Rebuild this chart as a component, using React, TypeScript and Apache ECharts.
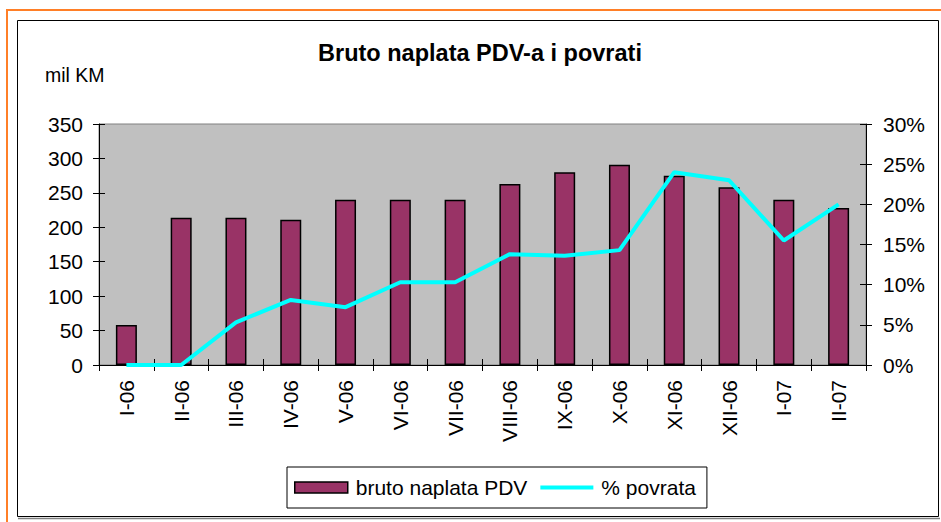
import React, { useEffect, useRef } from "react";
import * as echarts from "echarts";

const categories = ["I-06", "II-06", "III-06", "IV-06", "V-06", "VI-06", "VII-06", "VIII-06", "IX-06", "X-06", "XI-06", "XII-06", "I-07", "II-07"];
const grossCollection = [58, 214, 214, 211, 240, 240, 240, 263, 280, 291, 275, 258, 240, 228];
const refundPercent = [0, 0, 5.3, 8.1, 7.2, 10.3, 10.3, 13.8, 13.6, 14.3, 24.0, 23.0, 15.5, 20.0];
const leftTicks = { min: 0, max: 350, interval: 50 };
const rightTicks = { min: 0, max: 30, interval: 5 };
const seriesNames = ["bruto naplata PDV", "% povrata"];
const titleText = "Bruto naplata PDV-a i povrati";
const unitText = "mil KM";

const FONT = "'Liberation Sans', Arial, sans-serif";

export default function App() {
  const ref = useRef<HTMLDivElement>(null);
  useEffect(() => {
    if (!ref.current) return;
    const chart = echarts.init(ref.current, null, { renderer: "svg" });
    const gridPos = { left: 99, right: 75, top: 124, bottom: 157 };
    chart.setOption({
      animation: false,
      backgroundColor: "#ffffff",
      textStyle: { fontFamily: FONT, color: "#000" },
      graphic: [
        { type: "rect", shape: { x: 7, y: 10, width: 960, height: 540 }, style: { fill: "none", stroke: "#FF7F27", lineWidth: 2 }, silent: true },
        { type: "line", shape: { x1: 18, y1: 518.5, x2: 940, y2: 518.5 }, style: { stroke: "#808080", lineWidth: 1.5 }, silent: true },
        { type: "rect", shape: { x: 17.5, y: 20.5, width: 921, height: 496 }, style: { fill: "none", stroke: "#000", lineWidth: 1 }, silent: true },
        { type: "text", x: 480, y: 52.5, style: { text: titleText, fill: "#000", font: `bold 23.5px ${FONT}`, textAlign: "center", textVerticalAlign: "middle" } },
        { type: "text", x: 45, y: 75, style: { text: unitText, fill: "#000", font: `19.5px ${FONT}`, textAlign: "left", textVerticalAlign: "middle" } },
      ],
      legend: {
        left: 287,
        top: 467,
        padding: [10, 11, 10, 7],
        borderColor: "#000",
        borderWidth: 1,
        backgroundColor: "#fff",
        itemWidth: 53,
        itemHeight: 11,
        itemGap: 11,
        textStyle: { fontFamily: FONT, fontSize: 21, color: "#000", padding: [0, 0, 0, 3] },
        data: [
          { name: seriesNames[0], icon: "rect", itemStyle: { color: "#993366", borderColor: "#000", borderWidth: 1.5 } },
          { name: seriesNames[1], itemStyle: { opacity: 0 }, lineStyle: { color: "#00FFFF", width: 4 } },
        ],
      },
      grid: [
        { ...gridPos, show: true, backgroundColor: "#C0C0C0", borderColor: "#808080", borderWidth: 1 },
        { ...gridPos, show: false },
      ],
      xAxis: [
        {
          type: "category",
          gridIndex: 0,
          data: categories,
          axisLine: { lineStyle: { color: "#000", width: 1 } },
          axisTick: { show: true, length: 6, lineStyle: { color: "#000" } },
          axisLabel: { rotate: 90, margin: 15, fontSize: 21, fontFamily: FONT, color: "#000", interval: 0 },
        },
        {
          type: "category",
          gridIndex: 1,
          data: categories,
          axisLine: { show: false },
          axisTick: { show: true, inside: true, length: 6, lineStyle: { color: "#000" } },
          axisLabel: { show: false },
        },
      ],
      yAxis: [
        {
          type: "value",
          gridIndex: 0,
          position: "left",
          ...leftTicks,
          axisLine: { show: true, lineStyle: { color: "#000" } },
          axisTick: { show: true, length: 6, lineStyle: { color: "#000" } },
          splitLine: { show: false },
          axisLabel: { margin: 16, fontSize: 21, fontFamily: FONT, color: "#000" },
        },
        {
          type: "value",
          gridIndex: 0,
          position: "right",
          ...rightTicks,
          axisLine: { show: true, lineStyle: { color: "#000" } },
          axisTick: { show: true, length: 6, lineStyle: { color: "#000" } },
          splitLine: { show: false },
          axisLabel: { margin: 17, fontSize: 21, fontFamily: FONT, color: "#000", formatter: "{value}%" },
        },
        {
          type: "value",
          gridIndex: 1,
          position: "left",
          ...leftTicks,
          axisLine: { show: false },
          axisTick: { show: true, inside: true, length: 6, lineStyle: { color: "#000" } },
          splitLine: { show: false },
          axisLabel: { show: false },
        },
        {
          type: "value",
          gridIndex: 1,
          position: "right",
          ...rightTicks,
          axisLine: { show: false },
          axisTick: { show: true, inside: true, length: 6, lineStyle: { color: "#000" } },
          splitLine: { show: false },
          axisLabel: { show: false },
        },
      ],
      series: [
        {
          name: seriesNames[0],
          type: "bar",
          xAxisIndex: 0,
          yAxisIndex: 0,
          data: grossCollection,
          barWidth: 21,
          itemStyle: { color: "#993366", borderColor: "#000", borderWidth: 1.5 },
        },
        {
          name: seriesNames[1],
          type: "line",
          xAxisIndex: 0,
          yAxisIndex: 1,
          data: refundPercent,
          symbol: "none",
          lineStyle: { color: "#00FFFF", width: 4 },
          itemStyle: { color: "#00FFFF" },
          z: 5,
        },
      ],
    });
    return () => chart.dispose();
  }, []);
  return <div ref={ref} style={{ position: "fixed", left: 0, top: 0, width: 941, height: 522 }} />;
}
